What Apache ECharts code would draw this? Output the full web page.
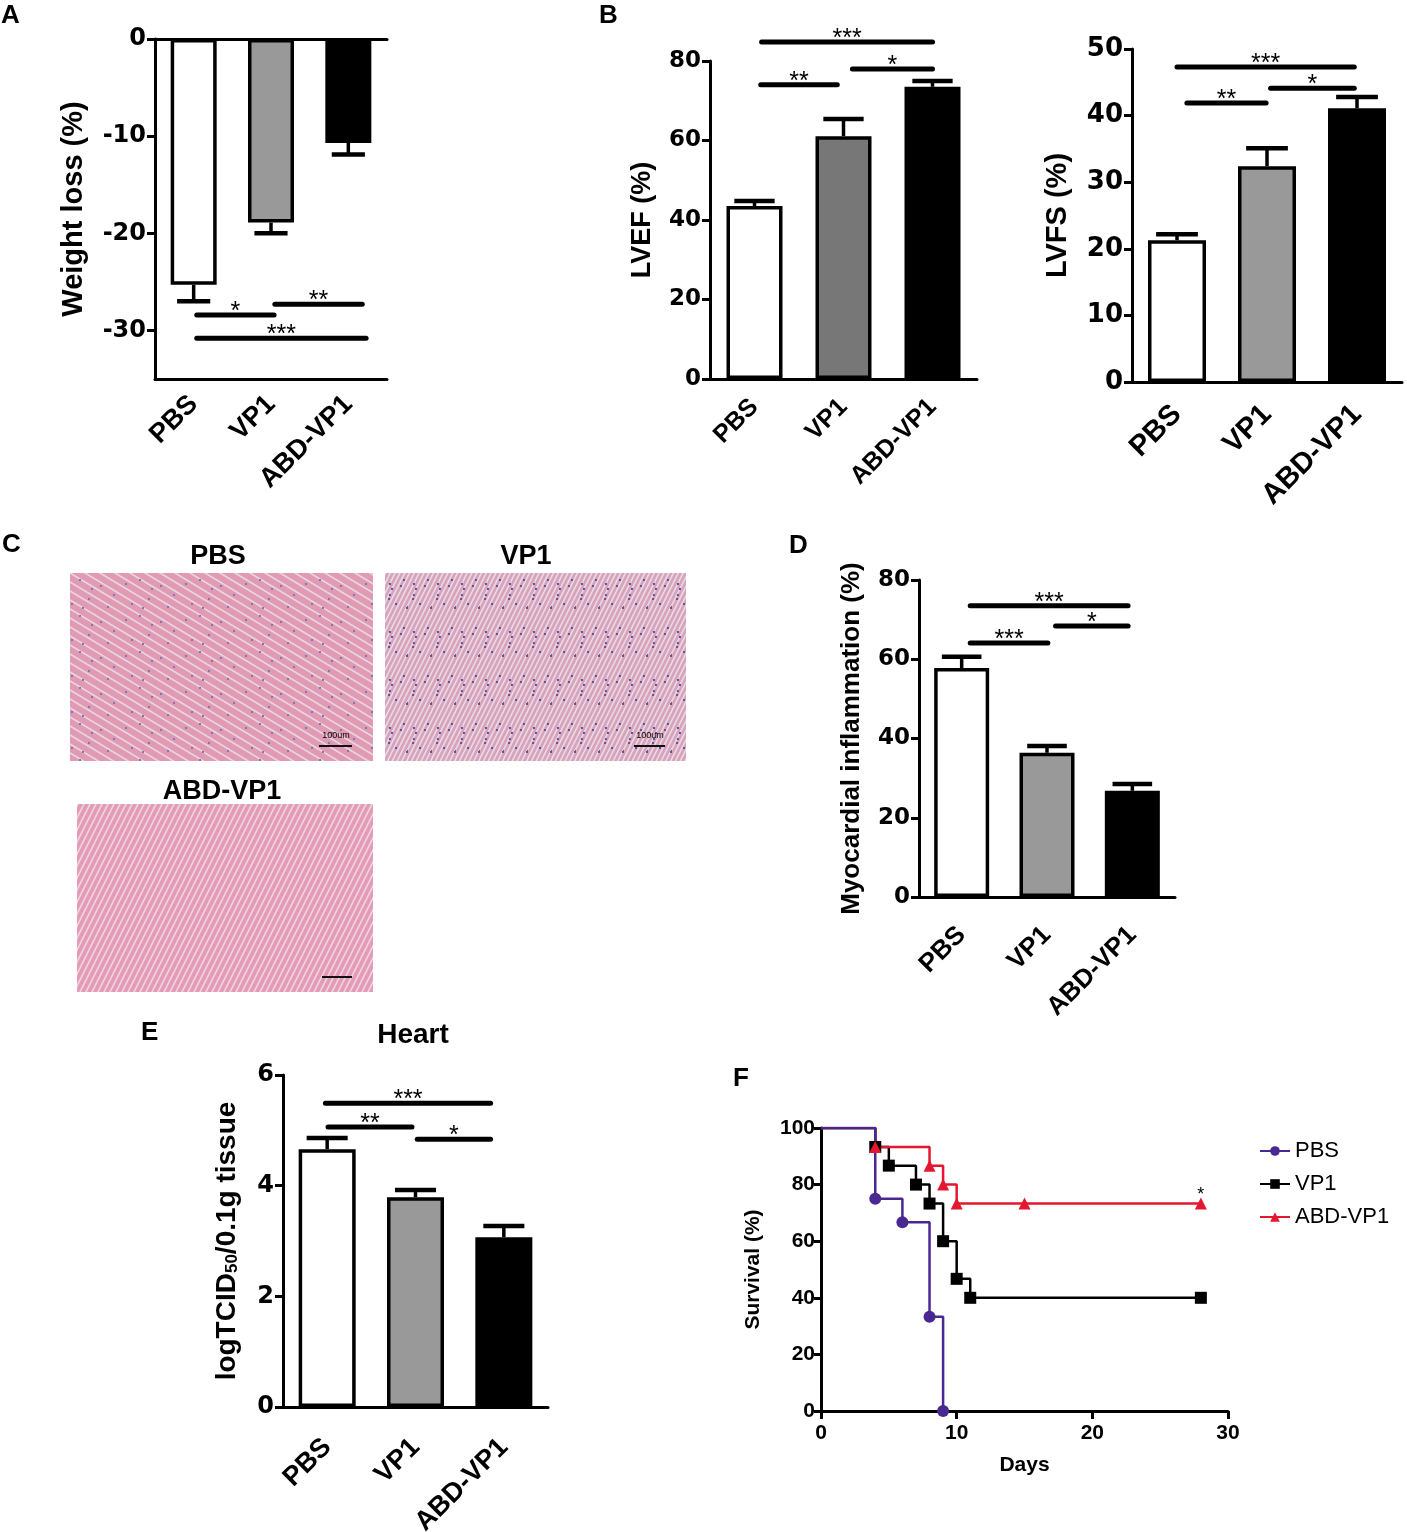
<!DOCTYPE html>
<html><head><meta charset="utf-8">
<script src="https://cdn.jsdelivr.net/npm/echarts@6/dist/echarts.min.js"></script>
<style>html,body{margin:0;padding:0;background:#fff}#c{width:1407px;height:1532px}</style>
</head><body><div id="c"></div>
<script>
// ---------- DATA ----------
const groups = ['PBS', 'VP1', 'ABD-VP1'];

// A: weight loss
const weightLoss = [-25.3, -18.9, -10.7];
const weightLossErr = [1.7, 1.1, 1.2];
const weightLossTicks = [-30, -20, -10, 0];
const weightLossSig = [[0.04, 1.04, -28.4, '*'], [1.05, 2.18, -27.3, '**'], [0.04, 2.23, -30.8, '***']];

// B: LVEF
const lvef = [43.5, 61.1, 73.5];
const lvefErr = [1.3, 4.3, 1.5];
const lvefSig = [[0.07, 0.93, 74.0, '**'], [1.1, 2.0, 78.0, '*'], [0.08, 2.0, 84.8, '***']];

// B: LVFS
const lvfs = [21.3, 32.4, 41.1];
const lvfsErr = [0.9, 2.7, 1.7];
const lvfsSig = [[0.11, 0.99, 41.9, '**'], [1.04, 1.97, 44.1, '*'], [0.0, 1.97, 47.3, '***']];

// D: myocardial inflammation
const inflammation = [57.8, 36.4, 26.8];
const inflammationErr = [2.8, 1.7, 1.7];
const inflammationSig = [[0.1, 1.01, 64.1, '***'], [1.1, 1.95, 68.4, '*'], [0.1, 1.95, 73.5, '***']];

// E: viral titre in heart
const heartTitre = [4.66, 3.79, 3.07];
const heartTitreErr = [0.2, 0.13, 0.2];
const heartTitreSig = [[0.01, 0.96, 5.06, '**'], [1.02, 1.85, 4.84, '*'], [-0.02, 1.85, 5.49, '***']];

// F: survival (days, %)
const survivalPBS = [[0, 100], [4, 75], [6, 66.7], [8, 33.3], [9, 0]];
const survivalVP1 = [[0, 100], [4, 93.3], [5, 86.7], [7, 80], [8, 73.3], [9, 60], [10, 46.7], [11, 40], [28, 40]];
const survivalABD = [[0, 100], [4, 93.3], [8, 86.7], [9, 80], [10, 73.3], [15, 73.3], [28, 73.3]];

// ---------- BUILD ----------
const FONT = '"Liberation Sans", Arial, Helvetica, sans-serif';
const TICKFONT = '"DejaVu Sans", "Liberation Sans", sans-serif';
const grids = [], xAxes = [], yAxes = [], series = [];

function barPanel(o) {
  const gi = grids.length;
  grids.push({left: o.left, top: o.top, width: o.width, height: o.height, outerBoundsMode: 'none', containLabel: false});
  const xi = xAxes.length;
  xAxes.push({
    type: 'category', gridIndex: gi, data: groups, position: 'bottom',
    axisLine: {onZero: false, lineStyle: {color: '#000', width: 3}},
    axisTick: {alignWithLabel: true, length: 11, lineStyle: {width: 3, color: '#000'}},
    axisLabel: {rotate: 45, fontSize: o.catFont, fontWeight: 'bold', color: '#000', fontFamily: FONT, margin: o.catMargin, interval: 0},
    splitLine: {show: false}
  });
  if (o.topLine) {
    xAxes.push({type: 'category', gridIndex: gi, data: groups, position: 'top',
      axisLine: {onZero: false, lineStyle: {color: '#000', width: 3}},
      axisTick: {show: false}, axisLabel: {show: false}});
  }
  const yi = yAxes.length;
  const yAx = {
    type: 'value', gridIndex: gi, min: o.min, max: o.max,
    name: o.name, nameLocation: 'middle', nameGap: o.nameGap, nameRotate: 90,
    nameTextStyle: {fontSize: o.nameFont, fontWeight: 'bold', color: '#000', fontFamily: FONT, rich: o.rich},
    axisLine: {show: true, lineStyle: {color: '#000', width: 3}},
    axisTick: {show: true, length: 8, lineStyle: {width: 3, color: '#000'}},
    axisLabel: {fontSize: o.tickFont, fontWeight: 'bold', color: '#000', fontFamily: TICKFONT, margin: 9},
    splitLine: {show: false}
  };
  if (o.ticks) { yAx.axisTick.customValues = o.ticks; yAx.axisLabel.customValues = o.ticks; }
  else { yAx.interval = o.interval; }
  yAxes.push(yAx);

  series.push({
    type: 'bar', xAxisIndex: xi, yAxisIndex: yi, barWidth: o.barWidth, silent: true,
    data: o.values.map((v, i) => ({value: v, itemStyle: {color: o.colors[i]}})),
    itemStyle: {borderColor: '#000', borderWidth: 3.5}
  });
  const capHalf = o.barWidth * 0.36;
  series.push({
    type: 'custom', xAxisIndex: xi, yAxisIndex: yi, z: 5, silent: true,
    data: o.values.map((v, i) => [i, v, o.errs[i]]),
    encode: {x: 0, y: 1},
    renderItem: (params, api) => {
      const i = api.value(0), v = api.value(1), e = api.value(2);
      const sg = v < 0 ? -1 : 1;
      const p0 = api.coord([i, v]), p1 = api.coord([i, v + sg * e]);
      return {type: 'group', children: [
        {type: 'line', shape: {x1: p0[0], y1: p0[1], x2: p1[0], y2: p1[1]}, style: {stroke: '#000', lineWidth: 3.5}},
        {type: 'line', shape: {x1: p1[0] - capHalf, y1: p1[1], x2: p1[0] + capHalf, y2: p1[1]}, style: {stroke: '#000', lineWidth: 4.5}}
      ]};
    }
  });
  series.push({
    type: 'custom', xAxisIndex: xi, yAxisIndex: yi, z: 6, silent: true, clip: false,
    data: o.sig.map(s => [0, s[2]]),
    encode: {x: 0, y: 1},
    renderItem: (params, api) => {
      const s = o.sig[params.dataIndex];
      const base = api.coord([0, s[2]]);
      const bw = api.size([1, 0])[0];
      const x1 = base[0] + s[0] * bw, x2 = base[0] + s[1] * bw, y = base[1];
      return {type: 'group', children: [
        {type: 'line', shape: {x1: x1, y1: y, x2: x2, y2: y}, style: {stroke: '#000', lineWidth: 5, lineCap: 'round'}},
        {type: 'text', x: (x1 + x2) / 2, y: y - 3, style: {text: s[3], fontSize: 25, fontFamily: FONT, fill: '#000',
          align: 'center', verticalAlign: 'middle', textAlign: 'center', textVerticalAlign: 'middle'}}
      ]};
    }
  });
}

barPanel({left: 155, top: 39, width: 232, height: 340, min: -35, max: 0, ticks: weightLossTicks, topLine: true,
  name: 'Weight loss (%)', nameGap: 67, nameFont: 29, tickFont: 24, catFont: 27, catMargin: 21, barWidth: 46,
  values: weightLoss, errs: weightLossErr, sig: weightLossSig, colors: ['#ffffff', '#999999', '#000000']});
barPanel({left: 710, top: 61, width: 267, height: 318, min: 0, max: 80, interval: 20,
  name: 'LVEF (%)', nameGap: 54, nameFont: 27, tickFont: 23, catFont: 25, catMargin: 24, barWidth: 56,
  values: lvef, errs: lvefErr, sig: lvefSig, colors: ['#ffffff', '#777777', '#000000']});
barPanel({left: 1132, top: 49, width: 270, height: 333, min: 0, max: 50, interval: 10,
  name: 'LVFS (%)', nameGap: 60, nameFont: 29, tickFont: 26, catFont: 29, catMargin: 28, barWidth: 58,
  values: lvfs, errs: lvfsErr, sig: lvfsSig, colors: ['#ffffff', '#999999', '#000000']});
barPanel({left: 919, top: 580, width: 256, height: 317, min: 0, max: 80, interval: 20,
  name: 'Myocardial inflammation (%)', nameGap: 54, nameFont: 26, tickFont: 23, catFont: 26, catMargin: 34, barWidth: 55,
  values: inflammation, errs: inflammationErr, sig: inflammationSig, colors: ['#ffffff', '#999999', '#000000']});
barPanel({left: 283, top: 1075, width: 265, height: 332, min: 0, max: 6, interval: 2,
  name: 'logTCID{sub|50}/0.1g tissue', nameGap: 42, nameFont: 28, tickFont: 24, catFont: 27, catMargin: 36, barWidth: 57,
  rich: {sub: {fontSize: 17, fontWeight: 'bold', fontFamily: FONT, color: '#000', verticalAlign: 'bottom', padding: [11, 0, 0, 0]}},
  values: heartTitre, errs: heartTitreErr, sig: heartTitreSig, colors: ['#ffffff', '#999999', '#000000']});

// F: survival
const gF = grids.length;
grids.push({left: 821, top: 1128, width: 407, height: 283, outerBoundsMode: 'none', containLabel: false});
const xF = xAxes.length;
xAxes.push({type: 'value', gridIndex: gF, min: 0, max: 30, interval: 10,
  name: 'Days', nameLocation: 'middle', nameGap: 44,
  nameTextStyle: {fontSize: 21, fontWeight: 'bold', color: '#000', fontFamily: FONT},
  axisLine: {onZero: false, lineStyle: {color: '#000', width: 3}},
  axisTick: {length: 8, lineStyle: {width: 3, color: '#000'}},
  axisLabel: {fontSize: 21, fontWeight: 'bold', color: '#000', fontFamily: FONT, margin: 12},
  splitLine: {show: false}});
const yF = yAxes.length;
yAxes.push({type: 'value', gridIndex: gF, min: 0, max: 100, interval: 20,
  name: 'Survival (%)', nameLocation: 'middle', nameGap: 57, nameRotate: 90,
  nameTextStyle: {fontSize: 21, fontWeight: 'bold', color: '#000', fontFamily: FONT},
  axisLine: {show: true, lineStyle: {color: '#000', width: 3}},
  axisTick: {show: true, length: 7, lineStyle: {width: 3, color: '#000'}},
  axisLabel: {fontSize: 21, fontWeight: 'bold', color: '#000', fontFamily: FONT, margin: 6},
  splitLine: {show: false}});

function survSeries(name, data, color, symbol, starLast) {
  return {
    name: name, type: 'line', xAxisIndex: xF, yAxisIndex: yF, step: 'end', showAllSymbol: true,
    symbol: symbol, symbolSize: (v, p) => (p.dataIndex === 0 ? 0 : 12),
    lineStyle: {color: color, width: 2.5}, itemStyle: {color: color},
    data: data.map((d, i) => (starLast && i === data.length - 1)
      ? {value: d, label: {show: true, formatter: '*', position: 'top', distance: 0, offset: [0, 6], fontSize: 18, color: '#000', fontFamily: FONT}}
      : {value: d})
  };
}
series.push(survSeries('VP1', survivalVP1, '#000000', 'rect', false));
series.push(survSeries('ABD-VP1', survivalABD, '#e5172f', 'triangle', true));
series.push(survSeries('PBS', survivalPBS, '#4a2891', 'circle', false));

// ---------- Panel C histology placeholders (texture only) ----------
function pattern(w, h, dir, n, base, streak, dots) {
  const c = document.createElement('canvas');
  c.width = w; c.height = h;
  const g = c.getContext('2d');
  g.fillStyle = base; g.fillRect(0, 0, w, h);
  g.strokeStyle = streak; g.lineWidth = 1.6;
  const step = h / n;
  for (let k = -2 * h; k <= 3 * h; k += step) {
    g.beginPath();
    if (dir > 0) { g.moveTo(-w, k - h); g.lineTo(2 * w, k + 2 * h); }
    else { g.moveTo(-w, k + h); g.lineTo(2 * w, k - 2 * h); }
    g.stroke();
  }
  if (dots) {
    g.fillStyle = dots;
    const pts = [[5, 7], [19, 3], [28, 22], [11, 27], [31, 12], [22, 31], [40, 9], [47, 30], [53, 18]];
    pts.forEach(p => g.fillRect(p[0] % w, p[1] % h, 2, 2));
  }
  return {image: c, repeat: 'repeat'};
}

const txt = (t, x, y, size, weight, align, va) => ({
  type: 'text', x: x, y: y, silent: true,
  style: {text: t, fontSize: size, fontWeight: weight, fontFamily: FONT, fill: '#000',
    align: align, verticalAlign: va, textAlign: align, textVerticalAlign: va}
});
const scaleBar = (x1, x2, y) => ({type: 'line', silent: true, shape: {x1: x1, y1: y, x2: x2, y2: y}, style: {stroke: '#111', lineWidth: 2}});

const graphics = [
  txt('A', 1, 3, 26, 'bold', 'left', 'top'),
  txt('B', 599, 3, 26, 'bold', 'left', 'top'),
  txt('C', 2, 532, 26, 'bold', 'left', 'top'),
  txt('D', 789, 533, 26, 'bold', 'left', 'top'),
  txt('E', 141, 1020, 26, 'bold', 'left', 'top'),
  txt('F', 733, 1066, 26, 'bold', 'left', 'top'),
  txt('Heart', 413, 1035, 28, 'bold', 'center', 'middle'),
  txt('PBS', 218, 557, 27, 'bold', 'center', 'middle'),
  txt('VP1', 526, 557, 27, 'bold', 'center', 'middle'),
  txt('ABD-VP1', 222, 792, 27, 'bold', 'center', 'middle'),
  {type: 'rect', silent: true, shape: {x: 70, y: 573, width: 303, height: 188}, style: {fill: pattern(60, 36, 1, 4, '#e19ab4', '#ead6de', '#8078ae')}},
  {type: 'rect', silent: true, shape: {x: 385, y: 573, width: 301, height: 188}, style: {fill: pattern(24, 48, -1, 5, '#d8a2bc', '#e9dae1', '#5a56a6')}},
  {type: 'rect', silent: true, shape: {x: 77, y: 804, width: 296, height: 188}, style: {fill: pattern(30, 60, -1, 5, '#e59bb7', '#ecd7df', null)}},
  txt('100um', 336, 740, 9, 'normal', 'center', 'bottom'),
  scaleBar(319, 352, 746),
  txt('100um', 650, 740, 9, 'normal', 'center', 'bottom'),
  scaleBar(634, 665, 746),
  scaleBar(322, 352, 977)
];

const chart = echarts.init(document.getElementById('c'), null, {renderer: 'canvas'});
chart.setOption({
  backgroundColor: '#ffffff',
  animation: false,
  grid: grids, xAxis: xAxes, yAxis: yAxes, series: series,
  legend: {
    data: ['PBS', 'VP1', 'ABD-VP1'], orient: 'vertical', left: 1254, top: 1135, itemGap: 11,
    itemWidth: 30, itemHeight: 12, textStyle: {fontSize: 22, color: '#000', fontFamily: FONT}
  },
  graphic: graphics
});
</script>
</body></html>
